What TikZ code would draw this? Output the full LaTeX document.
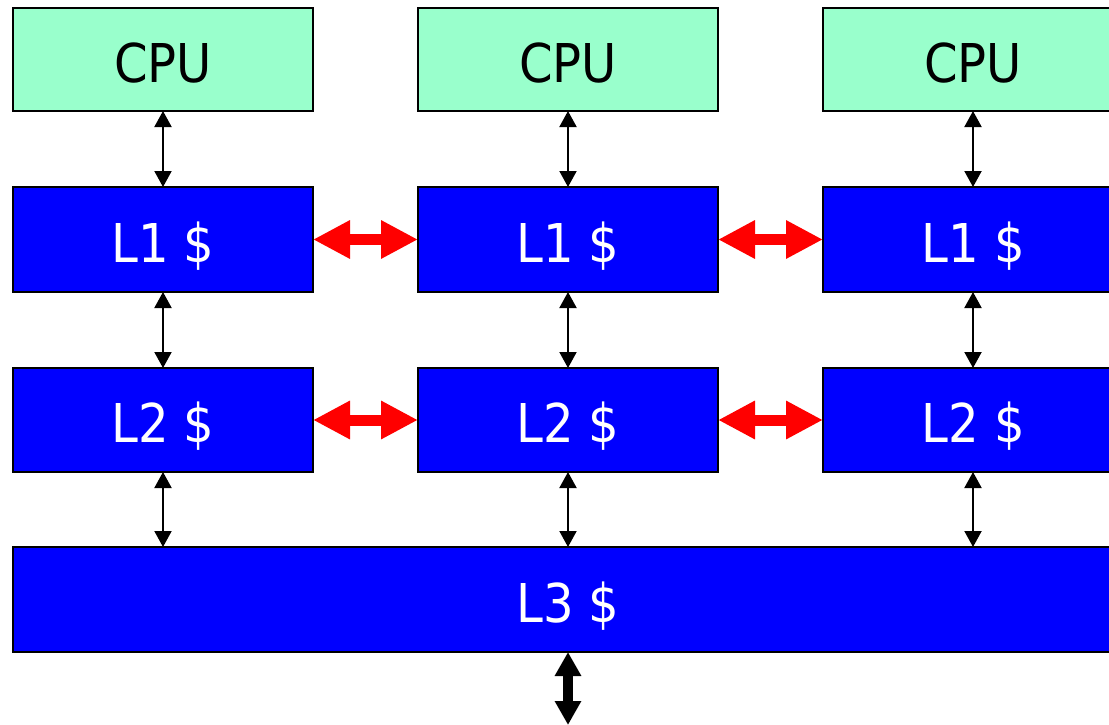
\documentclass[tikz,border=0pt]{standalone}
\usepackage{fontspec}
\setmainfont{DejaVu Sans Condensed}
\usepackage{xcolor}
\usetikzlibrary{arrows.meta}
\usetikzlibrary{positioning}

\definecolor{cpugreen}{HTML}{99FFCC}
\definecolor{cacheblue}{HTML}{0000FF}
\definecolor{linkred}{HTML}{FF0000}

\begin{document}
\begin{tikzpicture}[x=1pt, y=-1pt, >=Stealth, node distance=76pt and 105pt]
    \tikzstyle{box}=[rectangle, draw=black, line width=1.2pt, inner sep=0pt, outer sep=0pt,
        text height=45pt, text depth=0pt, font=\fontsize{53.5}{60}\selectfont]
    \tikzstyle{cpubox}=[box, fill=cpugreen, text=black, minimum width=300pt, minimum height=103pt]
    \tikzstyle{cachebox}=[box, fill=cacheblue, text=white, minimum width=300pt, minimum height=105pt]
    \tikzstyle{bus}=[<->, line width=2pt, >={Triangle[length=16pt, width=17pt]}]
    \tikzstyle{peer}=[<->, draw=linkred, line width=11pt, >={Triangle[length=37pt, width=36pt]}]

    \clip (0,0) rectangle (1109,725);
    \useasboundingbox (0,0) rectangle (1109,725);

    \node[cpubox] (cpua) at (163,59.5) {CPU};
    \node[cpubox] (cpub) [right=of cpua] {CPU};
    \node[cpubox] (cpuc) [right=of cpub] {CPU};

    \node[cachebox] (lonea) [below=of cpua] {L1 \$};
    \node[cachebox] (loneb) [below=of cpub] {L1 \$};
    \node[cachebox] (lonec) [below=of cpuc] {L1 \$};

    \node[cachebox] (ltwoa) [below=of lonea, minimum height=104pt] {L2 \$};
    \node[cachebox] (ltwob) [below=of loneb, minimum height=104pt] {L2 \$};
    \node[cachebox] (ltwoc) [below=of lonec, minimum height=104pt] {L2 \$};

    \node[cachebox, minimum width=1110pt, anchor=north west] (lthree) at (13,547) {};
    \node[box, draw=none, text=white] (lthreetext) at (lthree.center -| ltwob) {L3 \$};
    \coordinate (memport) at (568,725);

    \draw[bus] (cpua) -- (lonea);
    \draw[bus] (cpub) -- (loneb);
    \draw[bus] (cpuc) -- (lonec);
    \draw[bus] (lonea) -- (ltwoa);
    \draw[bus] (loneb) -- (ltwob);
    \draw[bus] (lonec) -- (ltwoc);
    \draw[bus] (ltwoa.south) -- (ltwoa.south |- lthree.north);
    \draw[bus] (ltwob.south) -- (ltwob.south |- lthree.north);
    \draw[bus] (ltwoc.south) -- (ltwoc.south |- lthree.north);

    \draw[peer] (lonea) -- (loneb);
    \draw[peer] (loneb) -- (lonec);
    \draw[peer] (ltwoa) -- (ltwob);
    \draw[peer] (ltwob) -- (ltwoc);

    \draw[<->, line width=10pt, >={Triangle[length=24pt, width=25pt]}] (lthree.south -| ltwob) -- (memport);
\end{tikzpicture}
\end{document}
